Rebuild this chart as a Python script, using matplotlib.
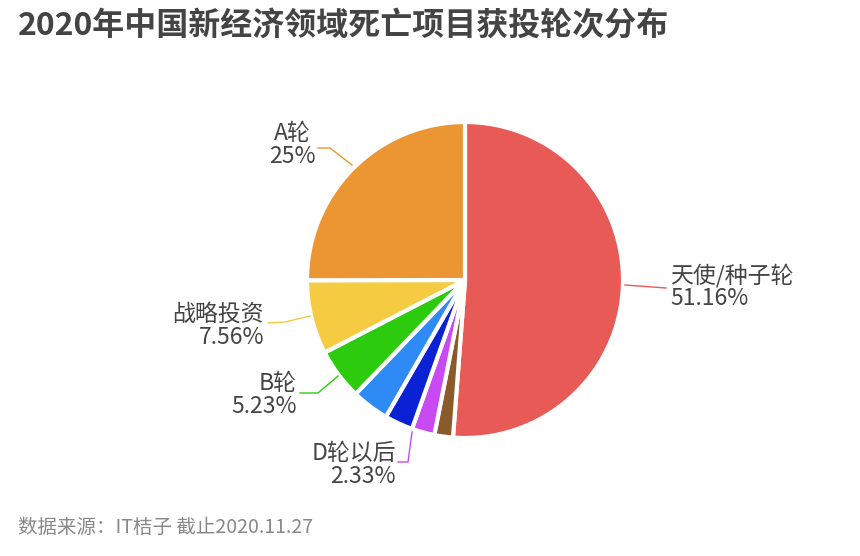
import matplotlib
matplotlib.use("agg")
import matplotlib.pyplot as plt

plt.rcParams['font.family'] = ['Noto Sans CJK SC', 'DejaVu Sans']

# clockwise from top
names = ['天使/种子轮', '其他', 'D轮以后', 'C轮', 'Pre-B轮', 'B轮', '战略投资', 'A轮']
shares = [51.16, 1.9, 2.33, 2.9, 3.82, 5.23, 7.56, 25.0]
colors = ['#E85A55', '#8B5A2B', '#C94AF2', '#0A22D4', '#2E8BF5', '#2DCB0E', '#F5CB42', '#EB9632']
shown = {'天使/种子轮', 'D轮以后', 'B轮', '战略投资', 'A轮'}

W, H = 860, 556
cx, cy, R = 465, 280, 158

def d(px, py):
    return (px - cx) / R, (cy - py) / R

fig = plt.figure(figsize=(W / 100, H / 100), dpi=100)
ax = fig.add_axes([0, 0, 1, 1])
ax.pie(shares, colors=colors, startangle=90, counterclock=False, radius=1.0,
       wedgeprops=dict(edgecolor='white', linewidth=3))
ax.set_xlim(-cx / R, (W - cx) / R)
ax.set_ylim(-(H - cy) / R, cy / R)
ax.set_aspect('equal')
ax.axis('off')

# label placement (pixels): text anchor, alignment, leader line
layout = {
    '天使/种子轮': ((670, 287), 'left', [(625, 285), (666, 288)]),
    'A轮': ((292, 145), 'center', [(318, 148), (330, 148), (352, 165)]),
    '战略投资': ((264, 326), 'right', [(268, 323), (285, 322), (310, 316)]),
    'B轮': ((297, 395), 'right', [(300, 393), (318, 393), (338, 376)]),
    'D轮以后': ((396, 465), 'right', [(398, 462), (408, 462), (412, 432)]),
}
for n, s, c in zip(names, shares, colors):
    if n not in shown:
        continue
    (tx, ty), ha, pts = layout[n]
    pct = '25%' if s == 25.0 else f'{s:.2f}%'
    ax.text(*d(tx, ty), f'{n}\n{pct}', ha=ha, va='center', fontsize=16.5,
            color='#444444', linespacing=1.0,
            multialignment='center' if ha == 'center' else ha)
    xs, ys = zip(*[d(*p) for p in pts])
    ax.plot(xs, ys, color=c, linewidth=1)

fig.text(18 / W, 1 - 26 / H, '2020年中国新经济领域死亡项目获投轮次分布', fontsize=23,
         fontweight='bold', color='#444444', va='center', ha='left')
fig.text(18 / W, 1 - 527 / H, '数据来源：IT桔子 截止2020.11.27', fontsize=14,
         color='#888888', va='center', ha='left')

fig.savefig('out.png', dpi=100)
